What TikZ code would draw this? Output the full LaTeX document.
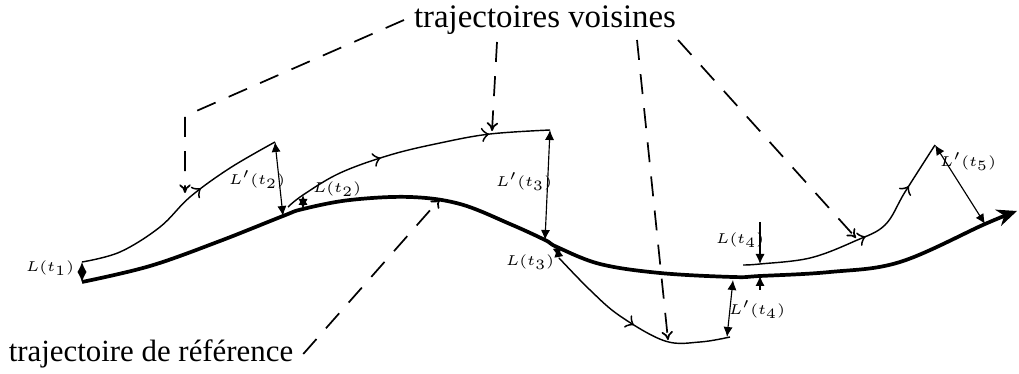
\documentclass[tikz,border=0pt]{standalone}
\usepackage{fontspec}
\setmainfont{Liberation Serif}
\usepackage{tikz}
\usetikzlibrary{arrows.meta, decorations.markings}
\tikzstyle{reftraj} = [line width=1.3pt, -{Stealth[length=7pt,width=6pt]}]
\tikzstyle{voisine} = [line width=0.5pt, postaction={decorate}]
\tikzstyle{dim} = [line width=0.4pt, {Latex[length=3.5pt,width=3.2pt]}-{Latex[length=3.5pt,width=3.2pt]}]
\tikzstyle{dimone} = [line width=0.4pt, -{Latex[length=3.5pt,width=3.2pt]}]
\tikzstyle{leader} = [dash pattern=on 7pt off 5pt, line width=0.6pt, -{To[length=3pt,width=4pt]}]
\tikzstyle{lab} = [font=\fontsize{5.2}{6}\selectfont, inner sep=1pt]

\begin{document}
\begin{tikzpicture}[x=0.35pt, y=-0.35pt]
  \useasboundingbox (0,0) rectangle (1019,374);

  % reference trajectory
  \coordinate (r0) at (82,282);
  \coordinate (r1) at (283,216);
  \coordinate (r2) at (303,209);
  \coordinate (r3) at (545,240);
  \coordinate (r4) at (557,247);
  \coordinate (r5) at (733,277);
  \coordinate (r6) at (760,276);
  \coordinate (r7) at (985,224);
  \coordinate (r8) at (1017,211);
  \draw[reftraj] plot[smooth, tension=0.6] coordinates {(r0) (150,266) (220,241) (r1) (r2) (350,200) (410,197) (460,204) (510,224) (r3) (r4) (600,264) (660,273) (r5) (r6) (830,272) (900,262) (r7) (r8)};

  % neighbouring trajectories
  \coordinate (a0) at (82,262);
  \coordinate (a1) at (275,142);
  \draw[voisine, decoration={markings, mark=at position 0.62 with {\arrow[scale=1.3]{to}}}]
    plot[smooth, tension=0.6] coordinates {(a0) (120,252) (160,227) (190,197) (230,168) (a1)};

  \coordinate (b0) at (288,207);
  \coordinate (b1) at (303,195);
  \coordinate (b2) at (550,130);
  \draw[voisine, decoration={markings, mark=at position 0.38 with {\arrow[scale=1.3]{to}}, mark=at position 0.78 with {\arrow[scale=1.3]{to}}}]
    plot[smooth, tension=0.6] coordinates {(b0) (b1) (340,173) (390,155) (440,143) (490,134) (b2)};

  \coordinate (c0) at (559,258);
  \coordinate (c1) at (730,337);
  \draw[voisine, decoration={markings, mark=at position 0.5 with {\arrow[scale=1.3]{to}}}]
    plot[smooth, tension=0.6] coordinates {(c0) (590,290) (620,316) (665,341) (700,342) (c1)};

  \coordinate (d0) at (743,265);
  \coordinate (d1) at (760,264);
  \coordinate (d2) at (935,145);
  \draw[voisine, decoration={markings, mark=at position 0.52 with {\arrow[scale=1.3]{to}}, mark=at position 0.8 with {\arrow[scale=1.3]{to}}}]
    plot[smooth, tension=0.6] coordinates {(d0) (d1) (810,258) (855,241) (885,225) (905,192) (d2)};

  % distances
  \draw[dim] (a0) -- (r0);
  \node[lab] (lt1) at (50,268) {$L(t_1)$};
  \draw[dim] (a1) -- (r1);
  \node[lab] (lpt2) at (257,180) {$L'(t_2)$};
  \draw[dim] (b1) -- (r2);
  \node[lab] (lt2) at (337,189) {$L(t_2)$};
  \draw[dim] (b2) -- (r3);
  \node[lab] (lpt3) at (524,182) {$L'(t_3)$};
  \draw[dim] (r4) -- (c0);
  \node[lab] (lt3) at (530,262) {$L(t_3)$};
  \coordinate (d4top) at (760,222);
  \coordinate (d4bot) at (760,290);
  \draw[dimone] (d4top) -- (d1);
  \draw[dimone] (d4bot) -- (r6);
  \node[lab] (lt4) at (740,240) {$L(t_4)$};
  \coordinate (c2) at (727,337);
  \draw[dim] (733,280) -- (c2);
  \node[lab] (lpt4) at (757,310) {$L'(t_4)$};
  \draw[dim] (d2) -- (r7);
  \node[lab] (lpt5) at (968,162) {$L'(t_5)$};

  % legends
  \node[font=\fontsize{11.5}{13}\selectfont] (voisines) at (545,20) {trajectoires voisines};
  \node[font=\fontsize{10.8}{12}\selectfont] (reference) at (151,354) {trajectoire de r\'ef\'erence};

  \coordinate (bend) at (185,116);
  \draw[leader] (voisines.west) -- (bend) -- (185,193);
  \draw[leader] (497,42) -- (492,131);
  \draw[leader] (637,40) -- (668,340);
  \draw[leader] (678,40) -- (856,238);
  \draw[leader] (reference.east) -- (440,199);
\end{tikzpicture}
\end{document}
